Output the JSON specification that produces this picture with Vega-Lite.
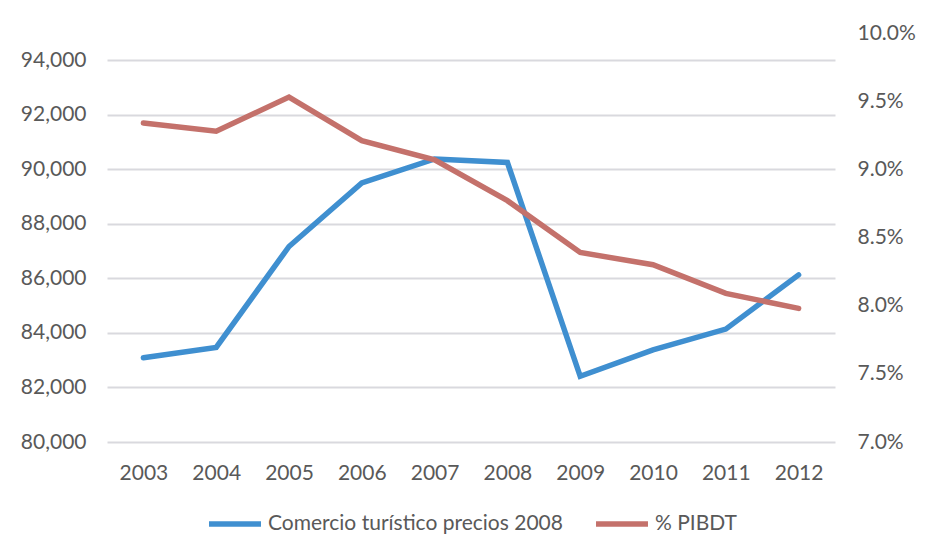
{
  "$schema": "https://vega.github.io/schema/vega-lite/v6.json",
  "width": 728,
  "height": 409,
  "autosize": {"type": "none"},
  "padding": {"left": 107, "top": 33, "right": 97, "bottom": 116},
  "background": "white",
  "config": {
    "font": "Lato",
    "view": {"stroke": null},
    "axis": {"labelFont": "Lato", "labelFontSize": 21, "labelColor": "#595959", "ticks": false, "domain": false, "title": null}
  },
  "data": {
    "values": [
      {"year": "2003", "comercio": 83090, "pib": 0.0934},
      {"year": "2004", "comercio": 83470, "pib": 0.0928},
      {"year": "2005", "comercio": 87170, "pib": 0.0953},
      {"year": "2006", "comercio": 89500, "pib": 0.0921},
      {"year": "2007", "comercio": 90380, "pib": 0.0907},
      {"year": "2008", "comercio": 90250, "pib": 0.0877},
      {"year": "2009", "comercio": 82410, "pib": 0.0839},
      {"year": "2010", "comercio": 83380, "pib": 0.0830},
      {"year": "2011", "comercio": 84140, "pib": 0.0809},
      {"year": "2012", "comercio": 86130, "pib": 0.0798}
    ]
  },
  "encoding": {
    "x": {
      "field": "year",
      "type": "ordinal",
      "scale": {"type": "point", "padding": 0.5},
      "axis": {"labelAngle": 0, "labelPadding": 20, "grid": false}
    }
  },
  "layer": [
    {
      "mark": {"type": "line", "strokeWidth": 5.5, "strokeCap": "round", "strokeJoin": "miter"},
      "encoding": {
        "y": {
          "field": "comercio",
          "type": "quantitative",
          "scale": {"domain": [80000, 95000], "nice": false, "zero": false},
          "axis": {
            "values": [80000, 82000, 84000, 86000, 88000, 90000, 92000, 94000],
            "format": ",d",
            "labelPadding": 21,
            "grid": true,
            "gridColor": "#D9D9DE",
            "gridWidth": 2
          }
        },
        "color": {
          "datum": "Comercio turístico precios 2008",
          "type": "nominal",
          "scale": {"domain": ["Comercio turístico precios 2008", "% PIBDT"], "range": ["#3F8FD0", "#C4716B"]},
          "legend": {
            "orient": "none",
            "legendX": 99,
            "legendY": 462,
            "direction": "horizontal",
            "title": null,
            "symbolType": "stroke",
            "symbolSize": 2700,
            "symbolStrokeWidth": 5.5,
            "labelFontSize": 21,
            "labelFont": "Lato",
            "labelColor": "#595959",
            "labelOffset": 4,
            "labelLimit": 600,
            "columnPadding": 22
          }
        }
      }
    },
    {
      "mark": {"type": "line", "strokeWidth": 5.5, "strokeCap": "round", "strokeJoin": "miter"},
      "encoding": {
        "y": {
          "field": "pib",
          "type": "quantitative",
          "scale": {"domain": [0.07, 0.10], "nice": false, "zero": false},
          "axis": {
            "orient": "right",
            "values": [0.07, 0.075, 0.08, 0.085, 0.09, 0.095, 0.10],
            "format": ".1%",
            "labelPadding": 22,
            "grid": false
          }
        },
        "color": {"datum": "% PIBDT", "type": "nominal"}
      }
    }
  ],
  "resolve": {"scale": {"y": "independent"}}
}
